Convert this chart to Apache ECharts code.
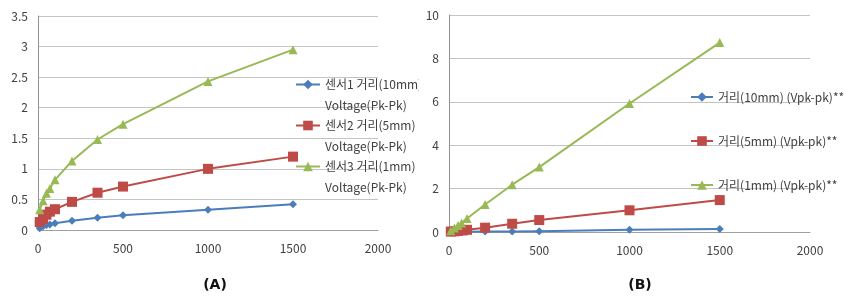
<!DOCTYPE html>
<html>
<head>
<meta charset="utf-8">
<script src="https://cdn.jsdelivr.net/npm/echarts@6/dist/echarts.min.js"></script>
<style>html,body{margin:0;padding:0;background:#fff}#c{width:844px;height:300px}</style>
</head>
<body>
<div id="c"></div>
<script>
// ---- data ----
const xValues = [10, 30, 50, 70, 100, 200, 350, 500, 1000, 1500];
// Chart (A)
const aNames = ['센서1 거리(10mm)\nVoltage(Pk-Pk)', '센서2 거리(5mm)\nVoltage(Pk-Pk)', '센서3 거리(1mm)\nVoltage(Pk-Pk)'];
const aSensor1 = [0.03, 0.06, 0.08, 0.09, 0.11, 0.15, 0.20, 0.24, 0.33, 0.42];
const aSensor2 = [0.13, 0.18, 0.25, 0.30, 0.34, 0.46, 0.61, 0.71, 1.00, 1.20];
const aSensor3 = [0.33, 0.48, 0.60, 0.68, 0.82, 1.13, 1.48, 1.73, 2.43, 2.95];
// Chart (B)
const bNames = ['거리(10mm) (Vpk-pk)**', '거리(5mm) (Vpk-pk)**', '거리(1mm) (Vpk-pk)**'];
const bDist10 = [0.00, 0.00, 0.01, 0.01, 0.01, 0.02, 0.02, 0.04, 0.10, 0.14];
const bDist5 = [0.02, 0.03, 0.05, 0.07, 0.10, 0.20, 0.38, 0.55, 1.00, 1.47];
const bDist1 = [0.06, 0.18, 0.30, 0.42, 0.62, 1.27, 2.18, 2.99, 5.92, 8.73];
const panelLabels = ['(A)', '(B)'];

const colors = ['#4A7EBB', '#BE4B48', '#98B954'];
const symbols = ['diamond', 'rect', 'triangle'];
const symbolSizes = [8, 10, 9];
const FONT = '"Noto Sans CJK KR", "Noto Sans", sans-serif';

function pairs(ys) { return xValues.map((x, i) => [x, ys[i]]); }
function mkSeries(name, ys, idx, axisIdx) {
  return {
    name: name, type: 'line', data: pairs(ys),
    xAxisIndex: axisIdx, yAxisIndex: axisIdx,
    symbol: symbols[idx], symbolSize: symbolSizes[idx],
    color: colors[idx],
    lineStyle: { width: 2, color: colors[idx] },
    itemStyle: { color: colors[idx] },
    animation: false
  };
}
const axisLabel = { color: '#404040', fontSize: 12, fontFamily: FONT };
function xAx(gi) {
  return { type: 'value', gridIndex: gi, min: 0, max: 2000, interval: 500,
    axisLine: { show: true, lineStyle: { color: '#a0a0a0' } }, axisTick: { show: false },
    splitLine: { show: false },
    axisLabel: Object.assign({ margin: 12, formatter: v => String(v) }, axisLabel) };
}
function yAx(gi, max, interval) {
  return { type: 'value', gridIndex: gi, min: 0, max: max, interval: interval,
    axisLine: { show: true, lineStyle: { color: '#909090' } }, axisTick: { show: false },
    splitLine: { show: true, lineStyle: { color: '#c4c4c4' } },
    axisLabel: Object.assign({ margin: 10, formatter: v => String(v) }, axisLabel) };
}

const chart = echarts.init(document.getElementById('c'));
chart.setOption({
  backgroundColor: '#fff',
  textStyle: { fontFamily: FONT },
  grid: [
    { left: 38, right: 466, top: 16, bottom: 70 },
    { left: 449, right: 34, top: 15, bottom: 68 }
  ],
  xAxis: [xAx(0), xAx(1)],
  yAxis: [yAx(0, 3.5, 0.5), yAx(1, 10, 2)],
  legend: [
    { data: aNames, orient: 'vertical', left: 295, top: 53, padding: 0, itemWidth: 24, itemHeight: 12, itemGap: -22,
      formatter: name => ' \n' + name,
      textStyle: { color: '#404040', fontSize: 12, fontFamily: FONT, lineHeight: 21 } },
    { data: bNames, orient: 'vertical', left: 690, top: 91, padding: 0, itemWidth: 22, itemHeight: 12, itemGap: 32,
      textStyle: { color: '#404040', fontSize: 12, fontFamily: FONT } }
  ],
  title: [
    { text: panelLabels[0], left: 210, top: 273, textAlign: 'center',
      textStyle: { fontSize: 14, fontWeight: 'bold', color: '#111', fontFamily: '"DejaVu Sans", sans-serif' } },
    { text: panelLabels[1], left: 635, top: 273, textAlign: 'center',
      textStyle: { fontSize: 14, fontWeight: 'bold', color: '#111', fontFamily: '"DejaVu Sans", sans-serif' } }
  ],
  series: [
    mkSeries(aNames[0], aSensor1, 0, 0),
    mkSeries(aNames[1], aSensor2, 1, 0),
    mkSeries(aNames[2], aSensor3, 2, 0),
    mkSeries(bNames[0], bDist10, 0, 1),
    mkSeries(bNames[1], bDist5, 1, 1),
    mkSeries(bNames[2], bDist1, 2, 1)
  ],
  graphic: [
    { type: 'rect', left: 419, top: 74, shape: { width: 8, height: 20 }, style: { fill: '#fff' }, z: 100 }
  ]
});
</script>
</body>
</html>
